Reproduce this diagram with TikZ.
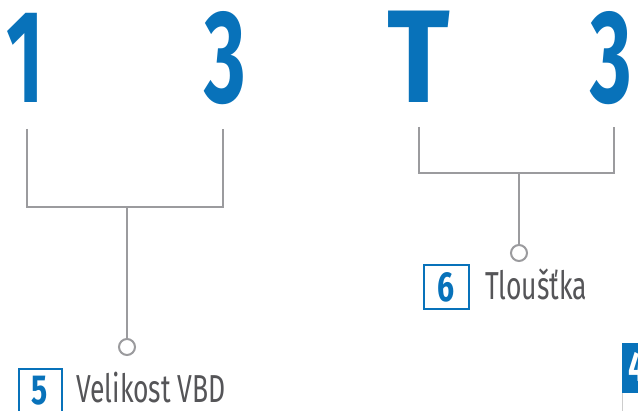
\documentclass[tikz,border=0pt]{standalone}
\usepackage{fontspec}
\setmainfont{Fira Sans}
\newfontfamily\condfont[FakeStretch=0.72]{Fira Sans}
\newfontfamily\labfont[FakeStretch=0.68]{Fira Sans}
\definecolor{brandblue}{RGB}{8,114,186}
\definecolor{brgray}{RGB}{155,155,158}
\definecolor{labgray}{RGB}{85,85,88}
\definecolor{edgegray}{RGB}{205,205,205}
\begin{document}
\begin{tikzpicture}[x=1pt,y=-1pt,
  bigchar/.style={inner sep=0,anchor=base,text=brandblue,font=\condfont\bfseries\fontsize{132}{140}\selectfont},
  numbox/.style={draw=brandblue,line width=2pt,inner sep=0,text=brandblue,font=\condfont\bfseries\fontsize{42}{44}\selectfont},
  fillbox/.style={fill=brandblue,inner sep=0},
  lab/.style={inner sep=0,anchor=base west,text=labgray,font=\labfont\fontsize{39}{42}\selectfont},
  bracket/.style={draw=brgray,line width=2.4pt},
  dot/.style={circle,draw=brgray,line width=2pt,fill=white,minimum size=16pt,inner sep=0}]
\useasboundingbox (0,0) rectangle (638,411);
% big characters
\node[bigchar] (d1) at (25,103) {\scalebox{0.85}[1]{1}};
\node[bigchar] (d3a) at (225,103) {\scalebox{0.84}[1]{3}};
\node[bigchar] (dT) at (419,103) {\scalebox{1.22}[1]{T}};
\node[bigchar] (d3b) at (611.5,103) {\scalebox{0.84}[1]{3}};
% left bracket
\coordinate (la) at (27,129);
\coordinate (lb) at (223,129);
\coordinate (lm) at (127,207);
\node[dot] (c5) at (127,347) {};
\draw[bracket] (la) -- (la |- lm) -- (lb |- lm) -- (lb);
\draw[bracket] (lm) -- (c5.north);
% right bracket
\coordinate (ra) at (419,127);
\coordinate (rb) at (614,127);
\coordinate (rm) at (519,173);
\node[dot] (c6) at (519,253) {};
\draw[bracket] (ra) -- (ra |- rm) -- (rb |- rm) -- (rb);
\draw[bracket] (rm) -- (c6.north);
% label 6
\node[numbox,minimum width=45pt,minimum height=44pt] (b6) at (446,287.5) {\raisebox{-1pt}{6}};
\node[lab] (t6) at (485,300) {Tloušťka};
% label 5
\node[numbox,minimum width=43pt,minimum height=44pt] (b5) at (40,391) {\raisebox{-3pt}{5}};
\node[lab] (t5) at (76,403) {Velikost VBD};
% partial box 4
\node[fillbox,minimum width=50pt,minimum height=50pt,anchor=north west] (b4) at (622,343) {};
\node[inner sep=0,anchor=base west,text=white,font=\condfont\bfseries\fontsize{42}{44}\selectfont] (t4) at (628,382) {4};
\draw[edgegray,line width=1pt] (b4.south west) -- ++(0,20);
\end{tikzpicture}
\end{document}
